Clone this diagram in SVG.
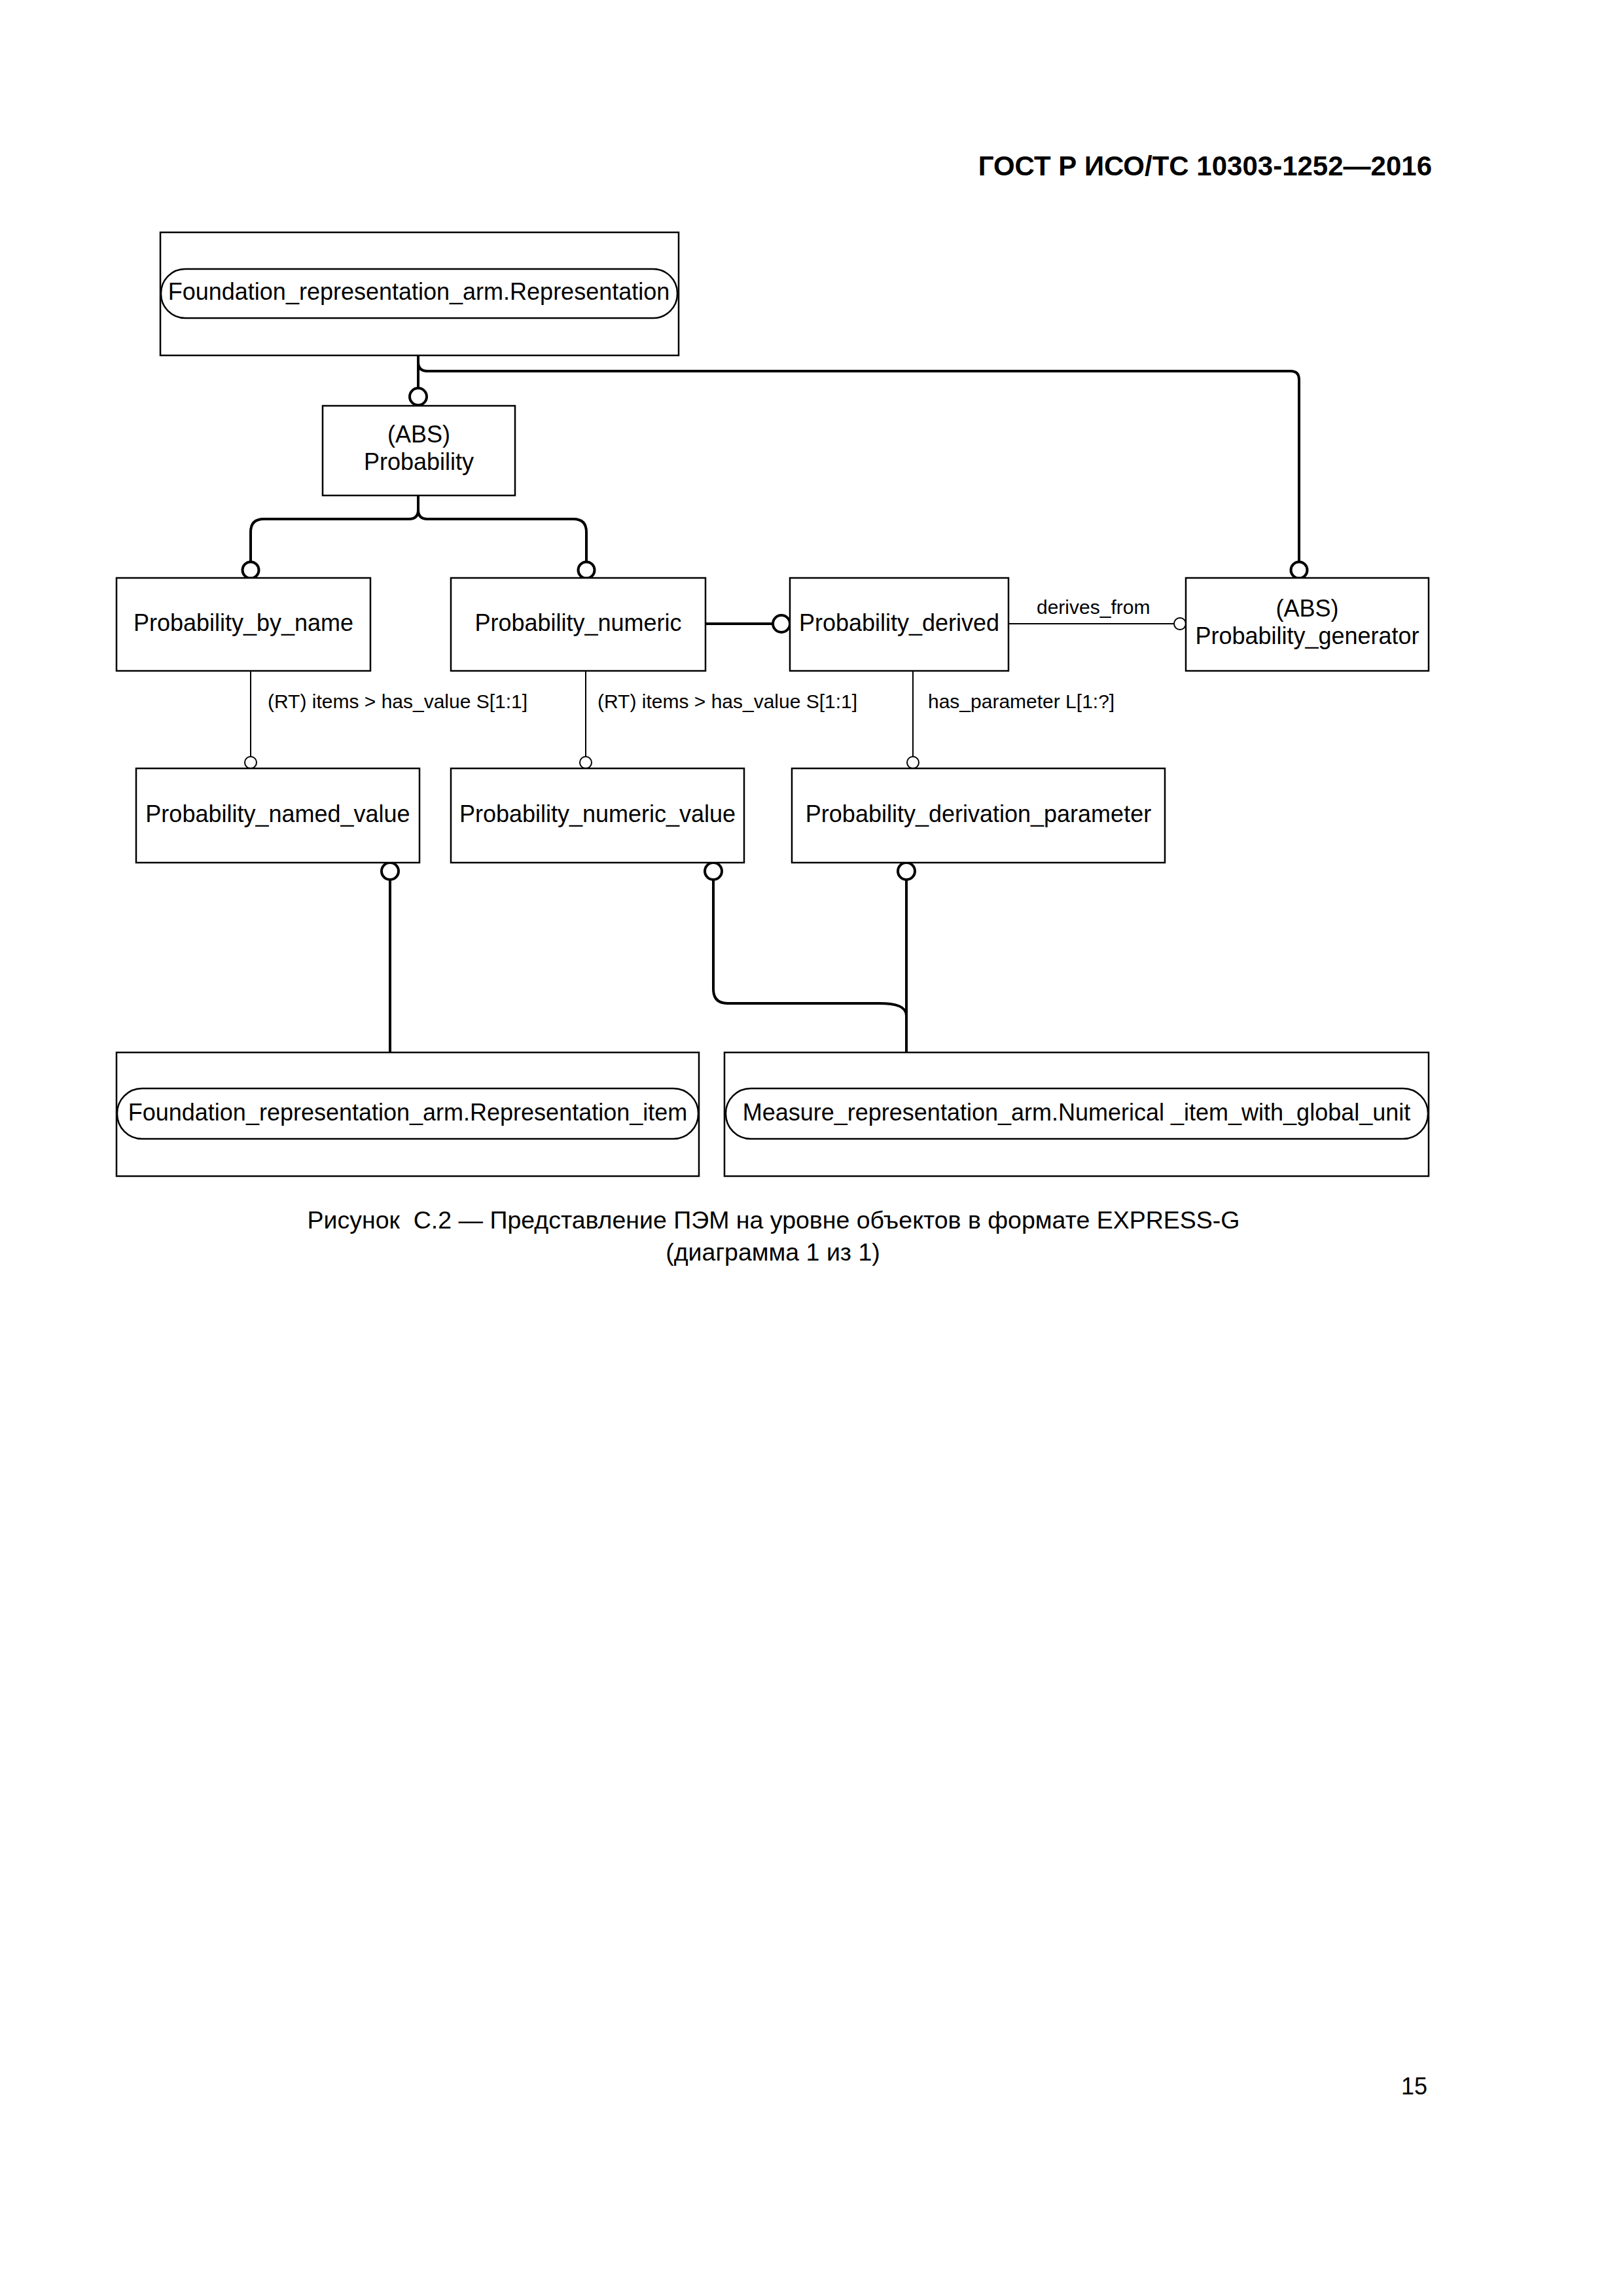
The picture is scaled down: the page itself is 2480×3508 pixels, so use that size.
<svg xmlns="http://www.w3.org/2000/svg" width="2480" height="3508" viewBox="0 0 2480 3508">
<style>
.box{fill:#fff;stroke:#000;stroke-width:2.5}
.pill{fill:#fff;stroke:#000;stroke-width:2.5}
.t{font-family:"Liberation Sans",Arial,sans-serif;font-size:36px;fill:#000;text-anchor:middle}
.lbl{font-family:"Liberation Sans",Arial,sans-serif;font-size:30px;fill:#000}
.cap{font-family:"Liberation Sans",Arial,sans-serif;font-size:37.5px;fill:#000;text-anchor:middle;white-space:pre}
.thick{fill:none;stroke:#000;stroke-width:4}
.thin{fill:none;stroke:#000;stroke-width:2}
.bc{fill:#fff;stroke:#000;stroke-width:4}
.sc{fill:#fff;stroke:#000;stroke-width:2}
</style>
<rect width="2480" height="3508" fill="#fff"/>
<text x="2188" y="268" font-family="'Liberation Sans',Arial,sans-serif" font-weight="bold" font-size="42" text-anchor="end">ГОСТ Р ИСО/ТС 10303-1252—2016</text>

<g id="connectors">
  <path class="thick" d="M639,543 V593"/>
  <path class="thick" d="M639,553 Q639,567 653,567 H1972 Q1985,567 1985,580 V858"/>
  <path class="thick" d="M639,757 V779 Q639,793 625,793 H403 Q383,793 383,813 V858"/>
  <path class="thick" d="M639,779 Q639,793 653,793 H876 Q896,793 896,813 V858"/>
  <path class="thick" d="M1078,953 H1181"/>
  <path class="thin" d="M1541,953 H1794"/>
  <path class="thin" d="M383,1025 V1156"/>
  <path class="thin" d="M895,1025 V1156"/>
  <path class="thin" d="M1395,1025 V1156"/>
  <path class="thick" d="M596,1344 V1608"/>
  <path class="thick" d="M1090,1344 V1511 Q1090,1533 1112,1533 H1343 C1370,1533 1385,1538 1385,1552"/>
  <path class="thick" d="M1385,1344 V1608"/>
  <circle class="bc" cx="639" cy="606" r="13"/>
  <circle class="bc" cx="1985" cy="871" r="12.5"/>
  <circle class="bc" cx="383" cy="871" r="12.5"/>
  <circle class="bc" cx="896" cy="871" r="12.5"/>
  <circle class="bc" cx="1194" cy="953" r="13"/>
  <circle class="sc" cx="1803" cy="953" r="9"/>
  <circle class="sc" cx="383" cy="1165" r="9"/>
  <circle class="sc" cx="895" cy="1165" r="9"/>
  <circle class="sc" cx="1395" cy="1165" r="9"/>
  <circle class="bc" cx="596" cy="1331" r="13"/>
  <circle class="bc" cx="1090" cy="1331" r="13"/>
  <circle class="bc" cx="1385" cy="1331" r="13"/>
  <text class="lbl" x="409" y="1082">(RT) items &gt; has_value S[1:1]</text>
  <text class="lbl" x="913" y="1082">(RT) items &gt; has_value S[1:1]</text>
  <text class="lbl" x="1584" y="938">derives_from</text>
  <text class="lbl" x="1418" y="1082">has_parameter L[1:?]</text>
</g>

<g id="n-foundation-representation">
  <rect class="box" x="245" y="355" width="792" height="188"/>
  <rect class="pill" x="246" y="411" width="789" height="75" rx="37" ry="37"/>
  <text class="t" x="640" y="458">Foundation_representation_arm.Representation</text>
</g>
<g id="n-probability">
  <rect class="box" x="493" y="620" width="294" height="137"/>
  <text class="t" x="640" y="676">(ABS)</text>
  <text class="t" x="640" y="718">Probability</text>
</g>
<g id="n-probability-by-name">
  <rect class="box" x="178" y="883" width="388" height="142"/>
  <text class="t" x="372" y="964">Probability_by_name</text>
</g>
<g id="n-probability-numeric">
  <rect class="box" x="689" y="883" width="389" height="142"/>
  <text class="t" x="883.5" y="964">Probability_numeric</text>
</g>
<g id="n-probability-derived">
  <rect class="box" x="1207" y="883" width="334" height="142"/>
  <text class="t" x="1374" y="964">Probability_derived</text>
</g>
<g id="n-probability-generator">
  <rect class="box" x="1812" y="883" width="371" height="142"/>
  <text class="t" x="1997.5" y="942">(ABS)</text>
  <text class="t" x="1997.5" y="984">Probability_generator</text>
</g>
<g id="n-probability-named-value">
  <rect class="box" x="208" y="1174" width="433" height="144"/>
  <text class="t" x="424.5" y="1256">Probability_named_value</text>
</g>
<g id="n-probability-numeric-value">
  <rect class="box" x="689" y="1174" width="448" height="144"/>
  <text class="t" x="913" y="1256">Probability_numeric_value</text>
</g>
<g id="n-probability-derivation-parameter">
  <rect class="box" x="1210" y="1174" width="570" height="144"/>
  <text class="t" x="1495" y="1256">Probability_derivation_parameter</text>
</g>
<g id="n-foundation-representation-item">
  <rect class="box" x="178" y="1608" width="890" height="189"/>
  <rect class="pill" x="179" y="1663" width="888" height="77" rx="38" ry="38"/>
  <text class="t" x="623" y="1712">Foundation_representation_arm.Representation_item</text>
</g>
<g id="n-measure-numerical-item">
  <rect class="box" x="1107" y="1608" width="1076" height="189"/>
  <rect class="pill" x="1109" y="1663" width="1073" height="77" rx="38" ry="38"/>
  <text class="t" x="1645" y="1712">Measure_representation_arm.Numerical _item_with_global_unit</text>
</g>

<text class="cap" x="1182" y="1877" xml:space="preserve">Рисунок  С.2 — Представление ПЭМ на уровне объектов в формате EXPRESS-G</text>
<text class="cap" x="1181" y="1926">(диаграмма 1 из 1)</text>
<text x="2181" y="3200" font-family="'Liberation Sans',Arial,sans-serif" font-size="36" text-anchor="end">15</text>
</svg>
